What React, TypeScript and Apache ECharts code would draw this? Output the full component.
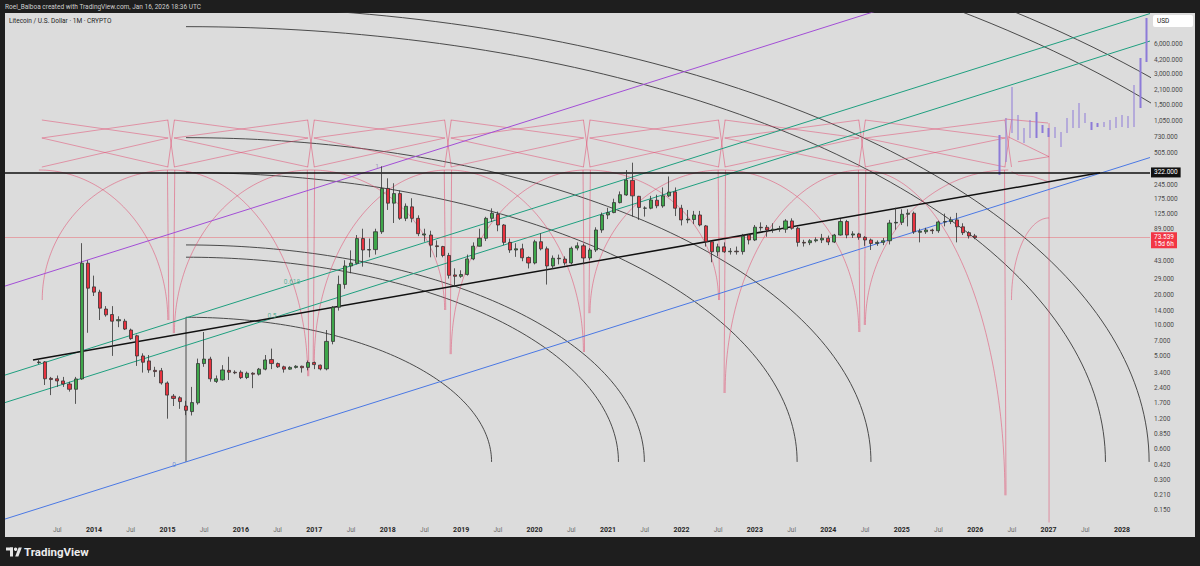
import React, { useEffect, useRef } from "react";
import * as echarts from "echarts";

// ---------------- data ----------------
const candleStart = { year: 2013, month: 4 }; // first monthly bar: Apr 2013

const opens = [
  4.30, 4.36, 3.00, 2.97, 2.83, 2.64, 2.34, 2.96, 41.1, 24.0,
  21.3, 14.5, 12.8, 11.1, 11.0, 9.0, 7.9, 4.99, 4.46, 3.6,
  3.57, 2.7, 2.0, 1.93, 1.6, 1.41, 1.72, 4.2, 4.65, 2.8,
  2.9, 3.6, 3.45, 3.45, 3.06, 3.37, 3.3, 3.7, 4.6, 4.2,
  3.9, 3.7, 3.85, 3.95, 3.85, 4.3, 4.05, 3.72, 6.95, 15.1,
  25.4, 38.6, 41.0, 72.0, 55.5, 56.0, 84.0, 225, 161, 200,
  114, 148, 114, 78, 78, 61, 60, 49, 31.5, 30.5,
  31.8, 45.3, 60.5, 72.5, 114, 125, 98, 66, 55.5, 57,
  46.8, 41.3, 67, 57, 38.6, 46, 45.2, 41.3, 58, 61,
  46.3, 55.5, 87.5, 123, 130, 163, 194, 270, 188, 143.5,
  143.5, 172, 151, 190, 208, 143.5, 110, 111, 123, 96,
  66.9, 53.3, 59.6, 53.3, 54, 53.5, 78, 69.7, 93, 93,
  87.5, 89, 89, 107.5, 91, 66, 65.5, 68.5, 69.7, 72.5,
  66.5, 78, 106, 78, 80, 74, 69.7, 64.4, 66, 68.5,
  102.5, 104, 125, 128, 83, 84, 87.5, 86, 105, 106,
  110, 94, 82.3, 76.5,
];
const highs = [
  4.55, 4.45, 3.10, 3.20, 3.10, 2.78, 3.10, 64.8, 44.0, 31.0,
  22.5, 15.5, 15.5, 12.3, 11.6, 9.3, 8.1, 5.3, 5.1, 3.9,
  3.8, 2.8, 2.1, 2.0, 1.8, 2.47, 4.7, 8.6, 4.9, 3.2,
  4.05, 4.9, 3.6, 3.6, 3.5, 3.45, 3.8, 5.1, 5.9, 4.3,
  4.0, 3.95, 4.05, 4.0, 4.5, 4.4, 4.1, 9.0, 15.5, 31.0,
  44.0, 55.0, 78.0, 90.0, 72.0, 90.0, 372, 283, 253, 215,
  160, 180, 122, 90, 86, 69, 61, 52, 36.6, 35,
  50, 66, 90, 118, 143, 133, 100, 72, 64.7, 64,
  48, 70, 81, 60, 49, 50, 48, 60, 66, 64,
  58, 93, 130, 145, 178, 210, 342, 404, 190, 150,
  190, 195, 230, 295, 230, 155, 138, 135, 135, 98,
  68, 64, 66, 58, 60, 80, 80, 98, 104, 98,
  102, 96, 112, 114, 94, 70, 71, 74, 80, 77,
  80, 112, 110, 85, 82, 76, 72, 69, 73, 110,
  145, 140, 140, 133, 90, 92, 90, 108, 127, 118,
  129, 102, 85, 80,
];
const lows = [
  4.15, 2.58, 2.05, 2.47, 2.47, 2.22, 1.68, 2.90, 8.45, 19.5,
  11.3, 12.2, 5.0, 9.6, 9.0, 7.2, 3.98, 3.42, 3.4, 3.1,
  2.6, 1.2, 1.6, 1.5, 1.3, 1.29, 1.65, 3.9, 2.78, 2.7,
  2.85, 2.89, 3.3, 2.95, 2.95, 2.4, 3.2, 3.6, 3.7, 3.8,
  3.42, 3.65, 3.75, 3.42, 3.6, 3.7, 3.6, 3.6, 6.5, 14.0,
  23.0, 32.7, 40.0, 38.0, 47.0, 50.0, 80.0, 138, 102.5, 110,
  107, 104, 76, 67, 47, 47, 47, 29, 24.2, 29.5,
  31, 44, 60, 68, 105, 85, 62, 52, 47.5, 43,
  36.5, 40, 55, 25.3, 36, 40, 39, 40, 55, 40,
  44, 53, 82, 112, 128, 160, 190, 118.6, 110, 118.6,
  140, 143.5, 145, 185, 120, 97, 102, 100, 95, 60,
  42, 48, 52, 50, 50, 50, 63, 68, 86, 75,
  82, 84, 82, 88, 60, 60, 62, 66, 65, 62,
  65, 77, 72.5, 73, 70, 61, 55.5, 61, 62, 63,
  88, 98, 95, 80, 66, 80, 80, 82, 95, 100,
  66, 78, 72, 71,
];
const closes = [
  4.35, 2.97, 2.92, 2.83, 2.64, 2.34, 2.96, 41.1, 23.3, 21.3,
  14.8, 12.7, 11.0, 11.4, 9.2, 7.4, 4.99, 4.33, 3.63, 3.5,
  2.7, 2.05, 1.9, 1.77, 1.45, 1.73, 4.2, 4.65, 2.97, 2.97,
  3.63, 3.45, 3.4, 3.05, 3.37, 3.3, 3.7, 4.56, 4.2, 3.9,
  3.7, 3.85, 3.95, 3.82, 4.3, 4.1, 3.72, 6.95, 15.1, 25.4,
  38.6, 41.2, 72.0, 55.5, 56.0, 84.0, 225, 161, 200, 114,
  150, 114, 80.4, 80, 62, 60, 49, 31.2, 30.5, 31.8,
  45.3, 60.5, 72.5, 114, 128, 98, 66, 55.5, 57, 46.5,
  41.3, 66.9, 57, 38.6, 46, 45.5, 41.3, 57.7, 61, 46.3,
  55.5, 87.5, 123, 130, 163, 195, 272, 190, 146, 144,
  173, 151.6, 190, 207, 143.5, 110, 112, 123, 98, 66.9,
  53.3, 59.6, 53.3, 54, 53.3, 76, 69.7, 93.2, 92, 87.5,
  89, 90, 107.5, 91, 66, 65, 68.5, 70, 72.5, 66.5,
  78, 106, 78, 80, 74, 69.7, 64.4, 66, 68.5, 102.5,
  104, 125, 128, 84, 85, 87.5, 86, 105, 106, 110,
  94, 82.3, 76.4, 73.539,
];

// projected (ghost) bars, monthly from May 2026
const projStart = { year: 2026, month: 5 };
const projLows = [305, 410, 793, 677, 632, 708, 708, 793, 724, 708, 577, 793, 889, 889, 995, 849, 909, 909, 849, 889, 909, 889, 909, 1400, 3985];
const projHighs = [758, 1115, 2257, 1194, 889, 1066, 1278, 951, 889, 909, 811, 1115, 1338, 1569, 1250, 1019, 995, 1019, 1066, 1141, 1194, 1167, 2362, 4363, 10830];

// axis tick labels
const priceTicks = [6000, 4200, 3000, 2100, 1500, 1050, 730, 505, 245, 175, 125, 89, 43, 29, 20, 14, 10, 7, 5, 3.4, 2.4, 1.7, 1.2, 0.85, 0.6, 0.42, 0.3, 0.21, 0.15];
const timeTicks = [2013.5, 2014, 2014.5, 2015, 2015.5, 2016, 2016.5, 2017, 2017.5, 2018, 2018.5, 2019, 2019.5, 2020, 2020.5, 2021, 2021.5, 2022, 2022.5, 2023, 2023.5, 2024, 2024.5, 2025, 2025.5, 2026, 2026.5, 2027, 2027.5, 2028];

// levels
const lastPrice = 73.539;
const lastPriceCountdown = "15d 6h";
const keyLevel = 322;

// drawings (in years / prices)
const fibAnchor = { year: 2015.253, price: 0.449 };
const fibSlope = 0.2289; // decades per year
const fibWidth = 2.3; // decades between level 0 and 1
const fibLevels = [0, 0.5, 0.618, 1];
const fibLabels = [
  { text: "0", year: 2015.089, price: 0.419 },
  { text: "0.5", year: 2016.424, price: 12.4 },
  { text: "0.618", year: 2016.696, price: 26.9 },
  { text: "1", year: 2017.854, price: 366 },
];
const trendLine = [[2013.169, 4.56], [2027.7, 322]];
const arcRadii = [1.428, 2.021, 2.142, 2.856, 3.201, 4.297, 4.501, 5.735, 5.893]; // decades
const arcAspect = 2.914; // years per decade

const cycleYears = [2013.25, 2015.05, 2016.955, 2018.82, 2020.71, 2022.55, 2024.46, 2026.45, 2027.006];
const archTop = [342, 342, 342, 342, 342, 342, 342, 342, 115];
const archLeftEnd = [null, 17.8, 8.4, 4.36, 5.2, 13.2, 2.15, 10.1, 17.8];
const archRightEnd = [11.3, 3.15, 14.2, 5.46, 17.8, 8.6, 0.21, null, null];
const latticePrices = [1066, 708, 366];
const projectionBox = [
  [[2026.406, 1090], [2026.992, 995]],
  [[2026.447, 729], [2027.006, 463]],
  [[2026.583, 413], [2027.006, 463]],
  [[2026.497, 329], [2026.588, 305], [2026.792, 294], [2026.997, 262]],
  [[2027.006, 995], [2027.006, 0.05]],
];

// ---------------- styles ----------------
const FONT = "Roboto, 'Liberation Sans', Arial, sans-serif";
const X_MIN = 2012.788;
const X_MAX = 2028.381;
const Y_MIN = -0.941;
const Y_MAX = 4.084;
const fibColors = ["#4a78e4", "#1e9f7f", "#1e9f7f", "#a24ed6"];
const fibLabelColors = ["#5b80d8", "#3aa88a", "#3aa88a", "#8c7fb0"];
const PINK = "rgba(226,70,108,0.62)";
const ARC = "#3a3a3a";

const lg = (p: number) => Math.log10(p);
const mx = (start: { year: number; month: number }, i: number) => start.year + (start.month - 1 + i) / 12;

function quarter(cx: number, cy: number, ax: number, by: number, steps = 90) {
  const pts: number[][] = [];
  for (let i = 0; i <= steps; i++) {
    const t = (i / steps) * (Math.PI / 2);
    pts.push([cx + ax * Math.sin(t), cy + by * Math.cos(t)]);
  }
  return pts;
}

function line(pts: number[][], color: string, width: number, z: number) {
  return {
    type: "line",
    data: pts,
    symbol: "none",
    showSymbol: false,
    silent: true,
    clip: true,
    animation: false,
    lineStyle: { color, width },
    emphasis: { disabled: true },
    z,
  };
}

function buildOption() {
  const series: any[] = [];

  // fib speed arcs
  const cL = lg(fibAnchor.price);
  arcRadii.forEach((b) => series.push(line(quarter(fibAnchor.year, cL, arcAspect * b, b), ARC, 0.9, 2)));
  series.push(line([[fibAnchor.year, cL], [fibAnchor.year, cL + arcRadii[0]]], ARC, 0.9, 2));

  // pink cycles
  cycleYears.forEach((cx, k) => {
    const top = lg(archTop[k]);
    const le = archLeftEnd[k];
    if (le !== null && k > 0) {
      const ex = cycleYears[k - 1] + 0.045;
      series.push(line(quarter(cx, lg(le), ex - cx, top - lg(le)), PINK, 0.85, 2));
    }
    const re = archRightEnd[k];
    if (re !== null && k < cycleYears.length - 1) {
      const ex = cycleYears[k + 1] - 0.045;
      series.push(line(quarter(cx, lg(re), ex - cx, top - lg(re)), PINK, 0.85, 2));
    }
  });
  for (let k = 1; k <= 7; k++) {
    const cx = cycleYears[k];
    const t = lg(archTop[k]);
    const dl = archRightEnd[k - 1];
    if (dl !== null) series.push(line([[cx - 0.05, t], [cx - 0.03, lg(dl)]], PINK, 0.85, 2));
    if (k < 7) {
      const dr = archLeftEnd[k + 1];
      if (dr !== null) series.push(line([[cx + 0.05, t], [cx + 0.03, lg(dr)]], PINK, 0.85, 2));
    }
    series.push(line([[cx - 0.045, lg(latticePrices[0])], [cx + 0.045, lg(latticePrices[2])]], PINK, 0.85, 2));
    series.push(line([[cx + 0.045, lg(latticePrices[0])], [cx - 0.045, lg(latticePrices[2])]], PINK, 0.85, 2));
  }
  for (let k = 0; k < 7; k++) {
    const a = cycleYears[k] + 0.04;
    const b = cycleYears[k + 1] - 0.04;
    const [p0, p1, p2] = latticePrices.map(lg);
    series.push(line([[a, p0], [b, p1]], PINK, 0.8, 2));
    series.push(line([[a, p1], [b, p0]], PINK, 0.8, 2));
    series.push(line([[a, p1], [b, p2]], PINK, 0.8, 2));
    series.push(line([[a, p2], [b, p1]], PINK, 0.8, 2));
  }
  projectionBox.forEach((pl) => series.push(line(pl.map(([x, p]) => [x, lg(p)]), PINK, 0.85, 2)));

  // fib channel
  fibLevels.forEach((lv, i) => {
    const base = cL + lv * fibWidth;
    const pts = [X_MIN, X_MAX].map((x) => [x, base + fibSlope * (x - fibAnchor.year)]);
    series.push(line(pts, fibColors[i], 1, 3));
  });

  // black trend line
  series.push(line(trendLine.map(([x, p]) => [x, lg(p)]), "#111111", 1.5, 4));

  // candles
  series.push({
    type: "candlestick",
    name: "LTCUSD",
    data: opens.map((o, i) => [mx(candleStart, i), lg(o), lg(closes[i]), lg(lows[i]), lg(highs[i])]),
    barWidth: 3.6,
    silent: true,
    z: 5,
    itemStyle: {
      color: "#3ea64a",
      color0: "#e8333f",
      borderColor: "#333333",
      borderColor0: "#333333",
      borderWidth: 0.8,
    },
    markLine: {
      silent: true,
      symbol: ["none", "none"],
      animation: false,
      data: [
        {
          yAxis: lg(keyLevel),
          lineStyle: { color: "#111111", width: 1.5, type: "solid" },
          label: {
            show: true, position: "end", distance: 1, formatter: "322.000", color: "#ffffff",
            backgroundColor: "#111111", padding: [2, 3, 1, 3], fontSize: 6.5, fontFamily: FONT,
          },
        },
        {
          yAxis: lg(lastPrice),
          lineStyle: { color: "rgba(242,54,69,0.35)", width: 1, type: "solid" },
          label: {
            show: true, position: "end", distance: 1, offset: [0, 3],
            formatter: lastPrice.toFixed(3) + "\n" + lastPriceCountdown,
            color: "#ffffff", backgroundColor: "#f23645", padding: [1, 3, 0, 3],
            fontSize: 6.5, lineHeight: 7.5, fontFamily: FONT,
          },
        },
      ],
    },
  });

  // projected bars
  series.push({
    type: "candlestick",
    name: "projection",
    data: projLows.map((lo, i) => [mx(projStart, i), lg(lo), lg(projHighs[i]), lg(lo), lg(projHighs[i])]),
    barWidth: 1.8,
    silent: true,
    z: 4,
    itemStyle: { color: "#8d7bd8", color0: "#8d7bd8", borderColor: "#8d7bd8", borderColor0: "#8d7bd8", borderWidth: 0 },
  });

  // fib labels
  series.push({
    type: "scatter",
    symbolSize: 1,
    silent: true,
    z: 7,
    itemStyle: { color: "rgba(0,0,0,0)" },
    data: fibLabels.map((f, i) => ({
      value: [f.year, lg(f.price)],
      label: { show: true, position: "inside", formatter: f.text, color: fibLabelColors[i], fontSize: 6.5, fontFamily: FONT },
    })),
  });

  const fmtPrice = (v: number) => {
    let best = priceTicks[0];
    priceTicks.forEach((t) => { if (Math.abs(lg(t) - v) < Math.abs(lg(best) - v)) best = t; });
    return best.toLocaleString("en-US", { minimumFractionDigits: 3, maximumFractionDigits: 3 });
  };

  return {
    animation: false,
    backgroundColor: "transparent",
    textStyle: { fontFamily: FONT },
    grid: { left: 5, right: 50, top: 13, bottom: 44, containLabel: false },
    xAxis: {
      type: "value",
      min: X_MIN,
      max: X_MAX,
      axisLine: { show: false },
      axisTick: { show: false },
      splitLine: { show: false },
      axisLabel: {
        customValues: timeTicks,
        margin: 4,
        formatter: (v: number) => (Math.abs(v - Math.round(v)) < 1e-6 ? "{y|" + Math.round(v) + "}" : "{m|Jul}"),
        rich: {
          y: { fontSize: 7, fontWeight: "bold", color: "#262626", fontFamily: FONT },
          m: { fontSize: 6.5, color: "#6b6b6b", fontFamily: FONT },
        },
      },
    },
    yAxis: {
      type: "value",
      position: "right",
      min: Y_MIN,
      max: Y_MAX,
      axisLine: { show: false },
      axisTick: { show: false },
      splitLine: { show: false },
      axisLabel: {
        customValues: priceTicks.map(lg),
        margin: 4,
        fontSize: 6.5,
        color: "#4a4a4a",
        fontFamily: FONT,
        formatter: fmtPrice,
      },
    },
    graphic: [
      { type: "rect", z: -10, silent: true, shape: { x: 5, y: 13, width: 1190, height: 524 }, style: { fill: "#dcdcdc" } },
      { type: "text", x: 5, y: 7, silent: true, style: { text: "Roel_Balboa created with TradingView.com, Jan 16, 2026 18:36 UTC", fill: "#cfcfcf", fontSize: 6.5, fontFamily: FONT, verticalAlign: "middle" } },
      { type: "text", x: 9, y: 20.5, silent: true, style: { text: "Litecoin / U.S. Dollar · 1M · CRYPTO", fill: "#1f1f1f", fontSize: 6.5, fontFamily: FONT, verticalAlign: "middle" } },
      { type: "rect", silent: true, z: 10, shape: { x: 1153, y: 15, width: 40, height: 12, r: 2 }, style: { fill: "#ffffff" } },
      { type: "text", x: 1157, y: 21, silent: true, z: 11, style: { text: "USD", fill: "#222222", fontSize: 6.5, fontFamily: FONT, verticalAlign: "middle" } },
      { type: "rect", silent: true, shape: { x: 6, y: 547.5, width: 7, height: 3 }, style: { fill: "#e6e6e6" } },
      { type: "rect", silent: true, shape: { x: 10, y: 547.5, width: 3, height: 9 }, style: { fill: "#e6e6e6" } },
      { type: "circle", silent: true, shape: { cx: 15.6, cy: 549.2, r: 1.7 }, style: { fill: "#e6e6e6" } },
      { type: "polygon", silent: true, shape: { points: [[15.2, 556.5], [18.6, 547.5], [21.8, 547.5], [18.4, 556.5]] }, style: { fill: "#e6e6e6" } },
      { type: "text", x: 24, y: 552, silent: true, style: { text: "TradingView", fill: "#ececec", fontSize: 11.5, fontWeight: "bold", fontFamily: FONT, verticalAlign: "middle" } },
    ],
    series,
  };
}

export default function App() {
  const ref = useRef<HTMLDivElement>(null);
  useEffect(() => {
    document.body.style.margin = "0";
    const chart = echarts.init(ref.current as HTMLDivElement, null, { renderer: "svg" });
    chart.setOption(buildOption() as any);
    return () => chart.dispose();
  }, []);
  return <div ref={ref} style={{ width: 1200, height: 566, background: "#1e1e1e" }} />;
}
